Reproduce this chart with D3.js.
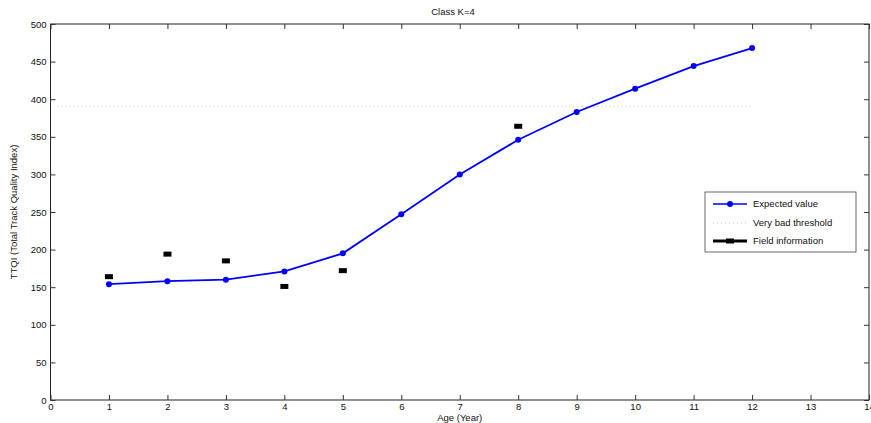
<!DOCTYPE html>
<html><head><meta charset="utf-8">
<script src="https://cdn.jsdelivr.net/npm/d3@7"></script>
<style>body{margin:0;background:#fff;} text{font-family:"Liberation Sans",Arial,sans-serif;}</style>
</head><body>
<svg id="c" width="871" height="423"></svg>
<script>
const title = "Class K=4";
const xLabel = "Age (Year)";
const yLabel = "TTQI (Total Track Quality Index)";
const ages = [1,2,3,4,5,6,7,8,9,10,11,12];
const expected = [154,158,160,171,195,247,300,346,383,414,444,468];
const fieldAges = [1,2,3,4,5,8];
const fieldValues = [164,194,185,151,172,364];
const thresholdValue = 390;
const thresholdRange = [0,12];
const xTicks = [0,1,2,3,4,5,6,7,8,9,10,11,12,13,14];
const yTicks = [0,50,100,150,200,250,300,350,400,450,500];
const legendLabels = ["Expected value","Very bad threshold","Field information"];

const svg = d3.select("#c");
const L=50.5, R=869, T=24, B=400;
const x = d3.scaleLinear().domain([0,14]).range([L,R]);
const y = d3.scaleLinear().domain([0,500]).range([B,T]);

svg.append("rect").attr("x",L).attr("y",T).attr("width",R-L).attr("height",B-T)
  .attr("fill","none").attr("stroke","#222").attr("stroke-width",1);

const fs = 9.5;
const xb = svg.append("g").attr("transform",`translate(0,${B})`)
  .call(d3.axisBottom(x).tickValues(xTicks).tickSize(-5).tickPadding(3).tickFormat(d3.format("d")));
const xt = svg.append("g").attr("transform",`translate(0,${T})`)
  .call(d3.axisTop(x).tickValues(xTicks).tickSize(-5).tickFormat(""));
const yl = svg.append("g").attr("transform",`translate(${L},0)`)
  .call(d3.axisLeft(y).tickValues(yTicks).tickSize(-5).tickPadding(4));
const yr = svg.append("g").attr("transform",`translate(${R},0)`)
  .call(d3.axisRight(y).tickValues(yTicks).tickSize(-5).tickFormat(""));
[xb,xt,yl,yr].forEach(g=>{
  g.select(".domain").remove();
  g.selectAll("line").attr("stroke","#333");
  g.selectAll("text").attr("font-size",fs).attr("fill","#111").style("font-family","Liberation Sans, Arial, sans-serif");
});
xb.selectAll("text").attr("dy","0.72em");

svg.append("line").attr("x1",x(thresholdRange[0])+7).attr("x2",x(thresholdRange[1]))
  .attr("y1",y(thresholdValue)).attr("y2",y(thresholdValue))
  .attr("stroke","#c8c8c8").attr("stroke-width",1).attr("stroke-dasharray","1,3");

const line = d3.line().x((d,i)=>x(ages[i])).y(d=>y(d));
svg.append("path").datum(expected).attr("d",line).attr("fill","none")
  .attr("stroke","#0000ff").attr("stroke-width",1.8);
svg.selectAll("circle.e").data(expected).enter().append("circle")
  .attr("cx",(d,i)=>x(ages[i])).attr("cy",d=>y(d)).attr("r",3).attr("fill","#0000ff");

svg.selectAll("rect.f").data(fieldValues).enter().append("rect")
  .attr("x",(d,i)=>x(fieldAges[i])-4).attr("y",d=>y(d)-2.5).attr("width",8).attr("height",5).attr("fill","#000");

svg.append("text").attr("x",453).attr("y",15).attr("text-anchor","middle").attr("font-size",fs).attr("fill","#111").text(title);
svg.append("text").attr("x",(L+R)/2).attr("y",420.5).attr("text-anchor","middle").attr("font-size",fs).attr("fill","#111").text(xLabel);
svg.append("text").attr("transform",`translate(17,${(T+B)/2}) rotate(-90)`).attr("text-anchor","middle").attr("font-size",fs).attr("fill","#111").text(yLabel);

const lg = svg.append("g");
lg.append("rect").attr("x",705).attr("y",192).attr("width",151).attr("height",60).attr("fill","#fff").attr("stroke","#444").attr("stroke-width",0.8);
const rows=[204,223,241];
lg.append("line").attr("x1",713).attr("x2",747).attr("y1",rows[0]).attr("y2",rows[0]).attr("stroke","#0000ff").attr("stroke-width",1.5);
lg.append("circle").attr("cx",730).attr("cy",rows[0]).attr("r",3).attr("fill","#0000ff");
lg.append("line").attr("x1",713).attr("x2",747).attr("y1",rows[1]).attr("y2",rows[1]).attr("stroke","#bbb").attr("stroke-dasharray","1,3");
lg.append("line").attr("x1",713).attr("x2",747).attr("y1",rows[2]).attr("y2",rows[2]).attr("stroke","#000").attr("stroke-width",3);
lg.append("rect").attr("x",726).attr("y",rows[2]-2.5).attr("width",8).attr("height",5).attr("fill","#000");
legendLabels.forEach((t,i)=>{
  lg.append("text").attr("x",753).attr("y",rows[i]).attr("dy","0.35em").attr("font-size",fs).attr("fill","#111").text(t);
});
</script>
</body></html>
